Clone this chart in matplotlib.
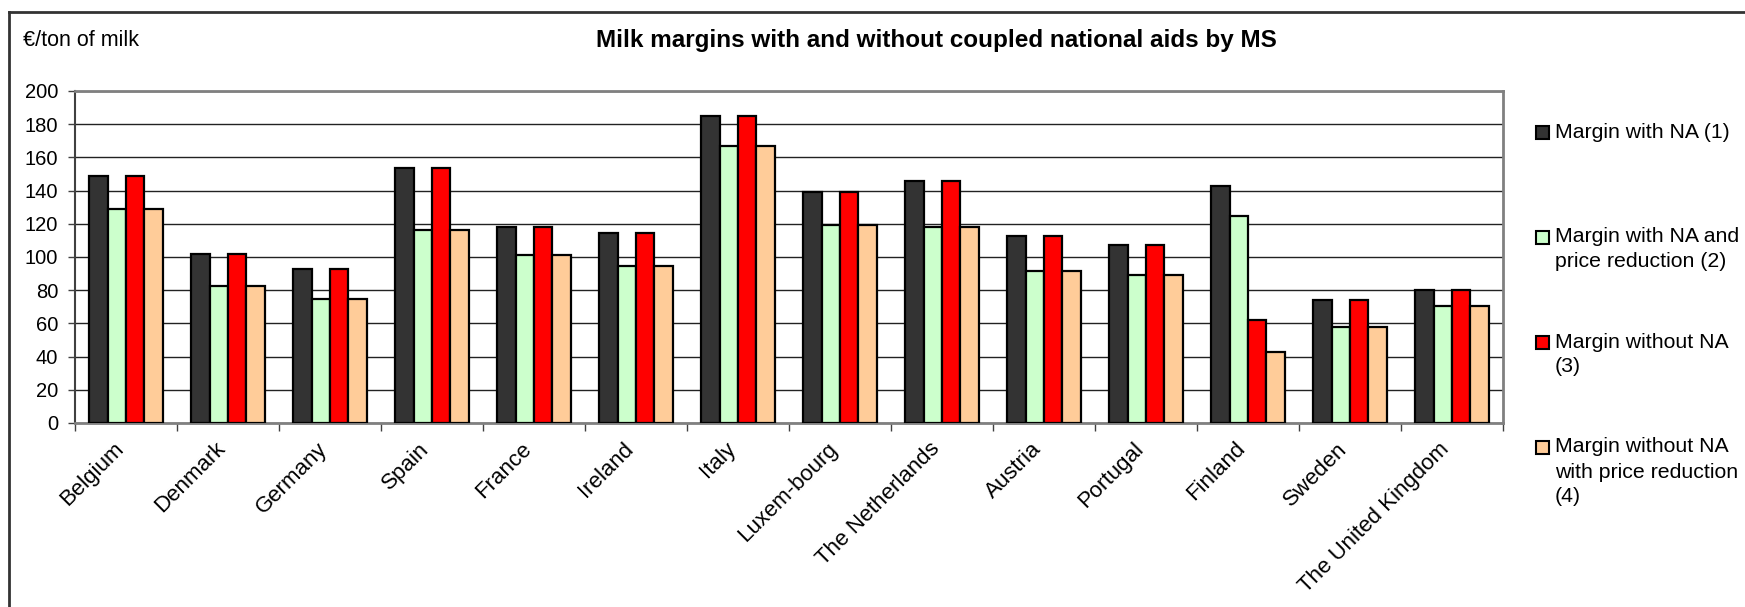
import matplotlib
matplotlib.use("Agg")
import matplotlib.pyplot as plt
import matplotlib.transforms as mtransforms
import numpy as np
from matplotlib.lines import Line2D
from matplotlib.patches import Rectangle

plt.rcParams["font.family"] = ["Liberation Sans", "DejaVu Sans"]

countries = ["Belgium", "Denmark", "Germany", "Spain", "France", "Ireland", "Italy",
             "Luxem-bourg", "The Netherlands", "Austria", "Portugal", "Finland",
             "Sweden", "The United Kingdom"]
with_na = [148.5, 102, 93, 153.5, 118, 114.5, 185, 139, 146, 112.5, 107, 143, 74, 80]
with_na_pr = [129, 82.5, 75, 116, 101, 94.5, 167, 119, 118, 91.5, 89, 124.5, 58, 70.5]
without_na = [148.5, 102, 93, 153.5, 118, 114.5, 185, 139, 146, 112.5, 107, 62, 74, 80]
without_na_pr = [129, 82.5, 75, 116, 101, 94.5, 167, 119, 118, 91.5, 89, 43, 58, 70.5]

series = [
    ("Margin with NA (1)", with_na, "#333333"),
    ("Margin with NA and\nprice reduction (2)", with_na_pr, "#CCFFCC"),
    ("Margin without NA\n(3)", without_na, "#FF0000"),
    ("Margin without NA\nwith price reduction\n(4)", without_na_pr, "#FFCC99"),
]

W, H = 1745, 607
fig = plt.figure(figsize=(W / 100, H / 100), dpi=100)
ax = fig.add_axes([75 / W, 1 - 423 / H, (1503 - 75) / W, (423 - 91) / H])

x = np.arange(len(countries))
bw = 0.18
for k, (label, vals, color) in enumerate(series):
    ax.bar(x + (k - 1.5) * bw, vals, width=bw, color=color, edgecolor="black",
           linewidth=1.6, zorder=3)

ax.set_xlim(-0.5, len(countries) - 0.5)
ax.set_ylim(0, 200)
ax.set_yticks(np.arange(0, 201, 20))
ax.yaxis.grid(True, color="#222222", linewidth=1, zorder=0)
ax.tick_params(axis="y", labelsize=14.5, length=5, width=1, color="#404040", pad=7)

ax.set_xticks(x)
ax.set_xticklabels(countries, rotation=45, ha="right", rotation_mode="anchor", fontsize=16)
ax.tick_params(axis="x", length=0, pad=11)
shift = mtransforms.ScaledTranslation(-0.13, 0, fig.dpi_scale_trans)
for lab in ax.get_xticklabels():
    lab.set_transform(lab.get_transform() + shift)
ax.set_xticks(np.arange(-0.5, len(countries)), minor=True)
ax.tick_params(axis="x", which="minor", length=6, width=1, color="#404040")

for s in ["top", "right", "bottom"]:
    ax.spines[s].set_color("#808080")
    ax.spines[s].set_linewidth(2)
ax.spines["left"].set_color("#404040")
ax.spines["left"].set_linewidth(1.5)

fig.text(23 / W, 1 - 41 / H, "\u20ac/ton of milk", fontsize=15.5, va="center", ha="left")
fig.text(936 / W, 1 - 41 / H, "Milk margins with and without coupled national aids by MS",
         fontsize=17.5, fontweight="bold", va="center", ha="center")

# legend, placed by hand like the original
line_h = 25
first_line = [132, 237, 342, 447]
for (label, vals, color), yc in zip(series, first_line):
    fig.add_artist(Rectangle((1536 / W, 1 - (yc + 7) / H), 13 / W, 13 / H,
                             facecolor=color, edgecolor="black", linewidth=1.5,
                             transform=fig.transFigure))
    for i, part in enumerate(label.split("\n")):
        fig.text(1555 / W, 1 - (yc + i * line_h) / H, part, fontsize=15.3,
                 va="center", ha="left")

# outer chart frame
fig.add_artist(Line2D([9 / W, 9 / W], [0, 1 - 12 / H], color="#333333", linewidth=2))
fig.add_artist(Line2D([9 / W, 1], [1 - 12 / H, 1 - 12 / H], color="#333333", linewidth=2))

fig.savefig("out.png", dpi=100)
